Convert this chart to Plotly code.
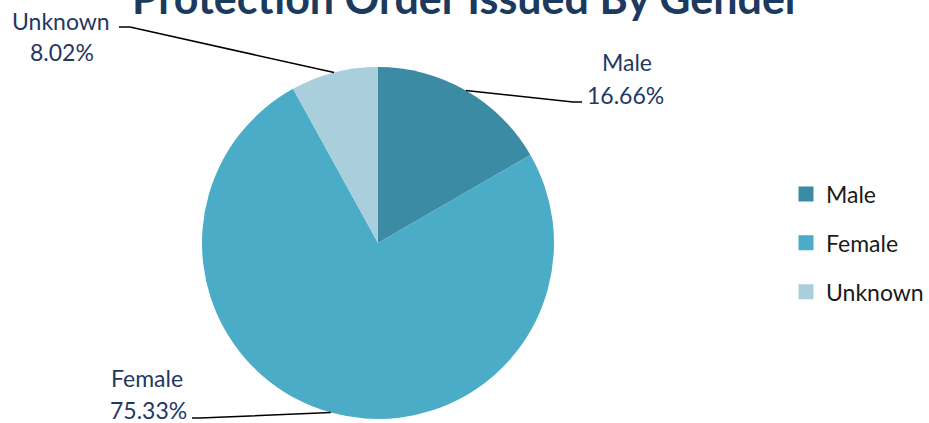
import math
import plotly.graph_objects as go

# ---- data ----
labels = ["Male", "Female", "Unknown"]
values = [16.66, 75.33, 8.02]
pct_text = ["16.66%", "75.33%", "8.02%"]
colors = ["#3a8ba3", "#4aacc6", "#a9cfdc"]
title = "Protection Order Issued By Gender"

# ---- layout constants (pixels) ----
W, H = 929, 423
CX, CY, R = 378, 243, 176
# label line centres (name line, percent line) and leader-line elbow ends (pixels)
label_pos = {"Male": ((627, 62), (625, 95)),
             "Female": ((147, 378), (148, 410)),
             "Unknown": ((61, 21), (62, 52))}
elbow = {"Male": ((573, 102), (582, 102)),
         "Female": ((200, 418), (192, 418)),
         "Unknown": ((130, 27), (119, 27))}
LABEL_FONT = dict(family="Lato", size=23, color="#1f3864")

def px(x):
    return x / W

def py(y):
    return 1 - y / H

fig = go.Figure()
fig.add_trace(go.Pie(
    labels=labels, values=values, sort=False, direction="clockwise", rotation=0,
    marker=dict(colors=colors, line=dict(width=0)),
    textinfo="none", hoverinfo="label+percent", showlegend=False,
    domain=dict(x=[px(CX - R), px(CX + R)], y=[py(CY + R), py(CY - R)]),
))

# legend via dummy traces
for lab, col in zip(labels, colors):
    fig.add_trace(go.Scatter(
        x=[None], y=[None], mode="markers", name=lab, legendgroup=lab,
        marker=dict(symbol="square", size=15, color=col),
    ))

annotations = []
shapes = []
total = sum(values)
cum = 0.0
for lab, v, t in zip(labels, values, pct_text):
    mid = (cum + v / 2) / total * 2 * math.pi
    cum += v
    ex = CX + R * math.sin(mid)
    ey = CY - R * math.cos(mid)
    (ax1, ay1), (ax2, ay2) = elbow[lab]
    shapes.append(dict(
        type="path", xref="paper", yref="paper",
        path=f"M {px(ex)} {py(ey)} L {px(ax1)} {py(ay1)} L {px(ax2)} {py(ay2)}",
        line=dict(color="#000000", width=1.5),
    ))
    (nx, ny), (tx, ty) = label_pos[lab]
    for txt, x, y in ((lab, nx, ny), (t, tx, ty)):
        annotations.append(dict(
            text=txt, x=px(x), y=py(y), xref="paper", yref="paper",
            showarrow=False, xanchor="center", yanchor="middle",
            font=LABEL_FONT,
        ))

# chart title (partly above the top edge, as in the reference)
annotations.append(dict(
    text=f"<b>{title}</b>", x=px(466), y=py(-3), xref="paper", yref="paper",
    showarrow=False, xanchor="center", yanchor="middle",
    font=dict(family="Lato", size=43, color="#1b3a5e"),
))

fig.update_layout(
    width=W, height=H,
    margin=dict(l=0, r=0, t=0, b=0, autoexpand=False),
    paper_bgcolor="white", plot_bgcolor="white",
    xaxis=dict(visible=False), yaxis=dict(visible=False),
    annotations=annotations, shapes=shapes,
    legend=dict(x=px(786), xanchor="left", y=py(243), yanchor="middle",
                font=dict(family="Lato", size=23, color="#1a1a1a"),
                tracegroupgap=16, itemwidth=30),
)

fig.write_html("out.html", config={"displayModeBar": False},
               post_script="document.body.style.margin='0';")
